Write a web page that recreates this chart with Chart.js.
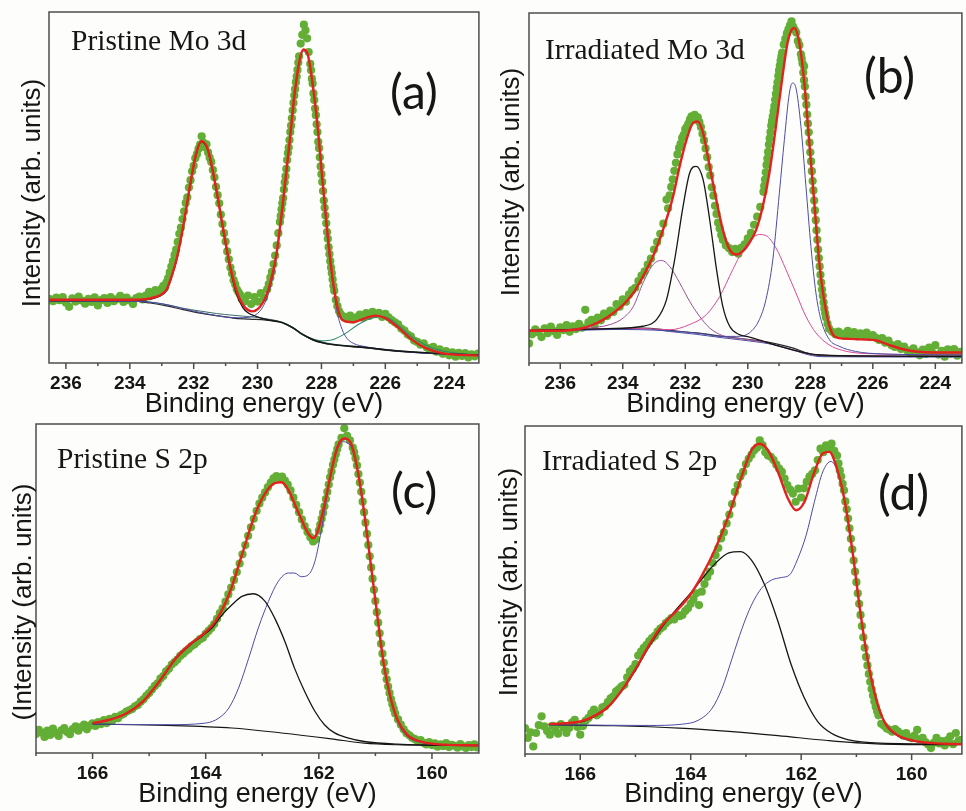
<!DOCTYPE html>
<html>
<head>
<meta charset="utf-8">
<script src="https://cdn.jsdelivr.net/npm/chart.js@4.4.1/dist/chart.umd.min.js"></script>
<style>
  body { margin: 0; background: #fdfdfb; width: 966px; height: 811px; overflow: hidden; position: relative; }
  canvas { position: absolute; }
</style>
</head>
<body>
<canvas id="pa" width="483" height="430" style="left:0;top:0"></canvas>
<canvas id="pb" width="483" height="430" style="left:483px;top:0"></canvas>
<canvas id="pc" width="483" height="399" style="left:0;top:412px"></canvas>
<canvas id="pd" width="483" height="399" style="left:483px;top:412px"></canvas>
<script>
// all values are [binding energy (eV), intensity (0-100 of panel height)]

// (a) pristine Mo 3d
const aDots = [[236.5,18.2],[236.4,17.6],[236.3,18.6],[236.2,17.9],[236.1,18.8],[236.0,17.2],[235.9,16.0],[235.8,18.4],[235.7,17.5],[235.6,18.9],[235.5,17.8],[235.4,16.9],[235.3,18.3],[235.2,17.4],[235.1,18.7],[235.0,16.4],[234.9,17.9],[234.8,18.5],[234.7,17.1],[234.6,18.8],[234.5,17.6],[234.4,18.2],[234.3,19.1],[234.2,17.4],[234.1,18.6],[234.0,17.8],[233.9,16.8],[233.8,18.5],[233.7,18.9],[233.6,18.1],[233.5,19.2],[233.4,20.3],[233.3,19.6],[233.2,20.8],[233.1,20.1],[233.0,21.2],[232.95,22.0],[232.9,21.5],[232.85,23.0],[232.8,24.2],[232.75,25.8],[232.7,27.5],[232.65,29.0],[232.6,30.8],[232.55,32.3],[232.5,34.5],[232.45,36.8],[232.4,38.6],[232.35,41.0],[232.3,43.2],[232.25,45.6],[232.2,47.2],[232.15,50.0],[232.1,52.1],[232.05,54.6],[232.0,56.2],[231.95,58.3],[231.9,59.5],[231.85,61.0],[231.8,62.2],[231.75,64.6],[231.7,62.8],[231.65,61.5],[231.6,62.3],[231.55,60.0],[231.5,58.5],[231.45,57.3],[231.4,55.0],[231.35,52.9],[231.3,50.2],[231.25,47.8],[231.2,45.5],[231.15,42.3],[231.1,39.6],[231.05,37.0],[231.0,34.6],[230.95,31.8],[230.9,29.5],[230.85,27.2],[230.8,25.5],[230.75,23.6],[230.7,22.4],[230.65,21.0],[230.6,20.2],[230.55,19.5],[230.5,18.3],[230.4,17.6],[230.3,19.2],[230.2,16.8],[230.1,18.8],[230.0,17.5],[229.9,19.9],[229.8,18.6],[229.7,21.0],[229.65,22.5],[229.6,24.3],[229.55,26.0],[229.5,28.2],[229.45,30.6],[229.4,33.5],[229.35,37.0],[229.3,40.2],[229.275,41.9],[229.25,43.8],[229.225,45.5],[229.2,47.0],[229.175,49.4],[229.15,51.5],[229.125,53.2],[229.1,55.3],[229.075,57.8],[229.05,59.8],[229.025,61.4],[229.0,63.5],[228.975,65.8],[228.95,67.6],[228.925,69.7],[228.9,72.0],[228.875,74.1],[228.85,76.2],[228.825,78.0],[228.8,80.0],[228.775,81.6],[228.75,83.5],[228.725,85.6],[228.7,87.4],[228.65,91.0],[228.6,93.5],[228.55,96.4],[228.5,94.8],[228.45,92.5],[228.4,88.6],[228.35,85.2],[228.325,83.4],[228.3,81.0],[228.275,79.6],[228.25,76.8],[228.225,74.9],[228.2,72.5],[228.175,70.6],[228.15,68.0],[228.125,65.8],[228.1,63.0],[228.075,61.2],[228.05,58.6],[228.025,56.0],[228.0,53.8],[227.975,51.6],[227.95,49.0],[227.925,46.3],[227.9,44.2],[227.875,42.0],[227.85,39.8],[227.825,37.3],[227.8,35.4],[227.775,33.0],[227.75,31.0],[227.725,29.0],[227.7,27.2],[227.675,25.6],[227.65,23.8],[227.625,22.0],[227.6,20.6],[227.55,18.0],[227.5,16.2],[227.45,14.8],[227.4,13.9],[227.3,13.2],[227.2,12.6],[227.1,13.5],[227.0,12.4],[226.9,13.0],[226.8,13.8],[226.7,12.9],[226.6,14.2],[226.5,13.4],[226.4,14.6],[226.3,13.9],[226.2,14.3],[226.1,13.1],[226.0,14.0],[225.9,13.0],[225.8,12.2],[225.7,11.6],[225.6,11.0],[225.5,9.8],[225.4,9.2],[225.3,8.1],[225.2,7.6],[225.1,6.4],[225.0,6.0],[224.9,5.2],[224.8,5.6],[224.7,4.4],[224.6,3.8],[224.5,4.6],[224.4,3.2],[224.3,3.9],[224.2,2.6],[224.1,3.4],[224.0,2.2],[223.9,3.0],[223.8,1.8],[223.7,2.9],[223.6,2.0],[223.5,2.8],[223.4,1.6],[223.3,2.5],[223.2,1.9],[223.1,2.7]];
const aFit = [[236.53,18.0],[235,18.0],[234,18.0],[233.5,18.2],[233.2,18.8],[233,19.6],[232.85,20.9],[232.7,24.5],[232.54,29.4],[232.33,38.9],[232.12,50.3],[231.92,59.8],[231.76,63.2],[231.6,61.8],[231.5,58.9],[231.29,49.4],[231.09,38.9],[230.88,28.5],[230.67,20.9],[230.46,16.6],[230.15,14.7],[229.84,17.1],[229.63,21.8],[229.42,30.4],[229.22,44.6],[229.0,62.7],[228.85,76.0],[228.7,85.5],[228.57,89.3],[228.44,88.3],[228.28,79.8],[228.12,67.4],[227.97,52.2],[227.81,37.0],[227.66,24.7],[227.5,16.1],[227.35,12.3],[227.03,11.6],[226.62,12.8],[226.31,13.5],[226.0,12.8],[225.58,10.0],[225.16,6.6],[224.75,4.3],[224.23,2.8],[223.07,2.1]];
const aPeak1 = [[236.53,18.0],[234,17.9],[233.5,18.0],[233.2,18.6],[233,19.4],[232.85,20.7],[232.7,24.3],[232.54,29.2],[232.33,38.7],[232.12,50.1],[231.92,59.6],[231.76,63.0],[231.6,61.6],[231.5,58.7],[231.29,49.2],[231.09,38.6],[230.88,28.0],[230.67,20.0],[230.46,15.8],[230.3,14.3],[230.05,13.3],[229.73,12.4],[229.4,11.9],[229.22,11.5],[228.9,10.1],[228.6,8.2],[228.28,6.7],[227.97,5.8],[227.66,5.3],[226.62,4.4],[225.58,3.4],[224.54,2.8],[223.07,2.3]];
const aPeak2 = [[236.53,17.7],[234,17.6],[233,16.9],[232,14.8],[231,13.1],[230.6,12.9],[230.3,13.0],[230.05,13.8],[229.84,15.9],[229.63,20.6],[229.42,29.4],[229.22,43.8],[229.0,62.0],[228.85,75.4],[228.7,85.0],[228.57,88.8],[228.44,87.8],[228.28,79.3],[228.12,66.9],[227.97,51.7],[227.82,36.0],[227.66,23.5],[227.5,14.2],[227.35,9.5],[227.2,7.0],[227.0,5.6],[226.6,4.6],[225.8,3.6],[224.8,2.8],[223.07,2.3]];
const aPeakS = [[229.2,11.4],[228.9,10.0],[228.6,8.1],[228.28,6.8],[228.0,6.3],[227.66,6.6],[227.27,8.3],[226.86,10.9],[226.41,12.8],[226.1,13.2],[225.79,12.2],[225.37,9.0],[224.96,6.2],[224.54,4.3],[223.92,3.0],[223.07,2.3]];
const aBg1 = [[236.53,17.6],[233.9,17.6],[233.37,17.1],[232.85,16.3],[232.33,15.2],[231.8,14.2],[231.29,13.5],[230.77,12.8],[230.25,12.5],[229.73,12.2],[229.22,11.4],[228.9,10.0],[228.6,8.1],[228.28,6.6],[227.97,5.7],[227.66,5.2],[226.62,4.3],[225.58,3.3],[224.54,2.7],[223.07,2.2]];
const aBg2 = [[236.53,17.8],[233.9,17.8],[233.37,17.4],[232.85,16.6],[232.33,15.6],[231.8,14.8],[231.29,14.1],[230.77,13.6],[230.25,13.2],[229.73,12.6],[229.22,11.6],[228.9,10.2],[228.6,8.3],[228.28,6.9],[227.97,6.0],[227.66,5.4],[226.62,4.5],[225.58,3.5],[224.54,2.8],[223.07,2.3]];

// (b) irradiated Mo 3d
const bDots = [[237.0,5.6],[236.9,8.2],[236.8,9.6],[236.7,8.8],[236.6,7.4],[236.5,9.9],[236.4,8.5],[236.3,10.4],[236.2,9.1],[236.1,8.0],[236.0,10.2],[235.9,9.4],[235.8,10.8],[235.7,8.9],[235.6,10.5],[235.5,9.7],[235.4,11.2],[235.3,10.1],[235.2,15.2],[235.1,11.6],[235.0,12.3],[234.9,10.9],[234.8,13.0],[234.7,12.2],[234.6,14.1],[234.5,13.4],[234.4,15.0],[234.3,14.6],[234.2,16.8],[234.1,16.1],[234.0,18.2],[233.9,17.5],[233.8,19.6],[233.7,20.8],[233.6,21.5],[233.5,23.4],[233.4,25.0],[233.3,26.2],[233.2,28.1],[233.1,29.8],[233.0,32.4],[232.9,34.6],[232.8,36.9],[232.7,39.8],[232.6,46.7],[232.55,44.2],[232.5,47.9],[232.45,50.3],[232.4,52.5],[232.35,54.9],[232.3,57.2],[232.25,59.6],[232.2,61.4],[232.15,62.6],[232.1,64.3],[232.05,65.2],[232.0,66.8],[231.95,67.5],[231.9,68.4],[231.85,69.6],[231.8,70.5],[231.75,69.8],[231.7,70.9],[231.65,69.5],[231.6,70.2],[231.55,68.8],[231.5,67.4],[231.45,65.5],[231.4,63.6],[231.35,61.3],[231.3,58.8],[231.25,56.0],[231.2,53.6],[231.15,50.2],[231.1,47.8],[231.05,44.9],[231.0,42.6],[230.95,40.1],[230.9,38.4],[230.85,36.6],[230.8,35.2],[230.7,33.6],[230.6,32.8],[230.5,31.7],[230.4,32.6],[230.3,31.2],[230.2,33.0],[230.1,33.9],[230.0,35.6],[229.9,37.2],[229.8,39.5],[229.7,41.8],[229.6,44.6],[229.5,48.9],[229.475,50.6],[229.45,52.4],[229.425,54.5],[229.4,56.6],[229.375,58.4],[229.35,60.3],[229.325,62.4],[229.3,64.2],[229.275,66.0],[229.25,67.8],[229.225,69.2],[229.2,70.5],[229.175,72.0],[229.15,73.4],[229.125,75.2],[229.1,76.9],[229.075,78.6],[229.05,80.2],[229.025,82.0],[229.0,83.6],[228.975,85.0],[228.95,86.4],[228.925,87.6],[228.9,88.7],[228.85,91.0],[228.8,92.6],[228.75,94.2],[228.7,95.3],[228.65,96.5],[228.6,97.6],[228.55,96.1],[228.5,95.2],[228.45,94.4],[228.4,92.0],[228.35,90.8],[228.3,88.2],[228.275,87.0],[228.25,85.6],[228.225,83.0],[228.2,84.8],[228.2,80.8],[228.175,79.0],[228.15,76.1],[228.125,73.8],[228.1,71.0],[228.075,68.4],[228.05,65.9],[228.025,63.0],[228.0,60.2],[227.975,57.6],[227.95,54.8],[227.925,52.0],[227.9,49.3],[227.875,46.4],[227.85,43.6],[227.825,40.8],[227.8,37.9],[227.775,35.2],[227.75,32.4],[227.725,30.0],[227.7,27.6],[227.675,25.2],[227.65,23.0],[227.625,21.0],[227.6,19.2],[227.575,17.3],[227.55,15.6],[227.525,14.2],[227.5,13.0],[227.45,11.2],[227.4,9.8],[227.3,8.9],[227.2,8.2],[227.1,9.0],[227.0,8.4],[226.9,7.8],[226.8,9.2],[226.7,8.1],[226.6,8.8],[226.5,7.6],[226.4,8.5],[226.3,7.9],[226.2,8.7],[226.1,7.4],[226.0,8.0],[225.9,7.2],[225.8,6.6],[225.7,7.1],[225.6,5.8],[225.5,6.4],[225.4,5.1],[225.3,4.6],[225.2,5.4],[225.1,4.0],[225.0,4.7],[224.9,3.6],[224.8,2.8],[224.7,4.2],[224.6,3.1],[224.5,2.2],[224.4,3.8],[224.3,2.6],[224.2,4.4],[224.1,3.0],[224.0,5.1],[223.9,2.4],[223.8,3.5],[223.7,1.8],[223.6,3.9],[223.5,2.7],[223.4,4.0],[223.3,2.1],[223.2,3.2]];
const bFit = [[237,9.2],[235.8,9.3],[235.26,10.0],[234.94,11.0],[234.62,12.4],[234.3,14.3],[233.98,16.7],[233.66,20.0],[233.35,24.8],[233.03,30.5],[232.71,38.1],[232.39,47.6],[232.18,56.2],[231.96,63.8],[231.75,68.6],[231.6,69.0],[231.43,65.7],[231.22,56.2],[231.01,46.7],[230.8,38.1],[230.58,32.4],[230.37,31.0],[230.16,31.9],[229.95,34.3],[229.73,38.1],[229.52,44.8],[229.31,54.3],[229.1,67.6],[228.89,81.9],[228.73,91.4],[228.62,94.8],[228.51,95.7],[228.35,91.4],[228.19,80.0],[228.04,63.8],[227.88,46.7],[227.72,29.5],[227.56,18.1],[227.35,9.5],[227.08,7.1],[226.76,6.9],[226.23,6.7],[225.91,6.5],[225.49,5.2],[225.06,4.0],[224.64,3.3],[224.0,3.0],[223.15,3.0]];
const bPeak1 = [[237,9.3],[234.5,9.8],[233.35,10.5],[232.92,12.4],[232.6,18.1],[232.34,29.5],[232.07,44.8],[231.86,54.3],[231.65,56.2],[231.43,52.4],[231.22,41.0],[231.0,26.7],[230.8,16.2],[230.58,10.5],[230.27,8.1],[229.95,7.4],[229.5,6.2],[229.0,4.8],[228.5,3.6],[228.0,2.6],[227.0,2.1],[223.15,1.9]];
const bPeak2 = [[237,9.2],[234.5,9.6],[232.5,9.2],[231.5,8.4],[230.8,7.6],[230.37,7.6],[229.95,8.6],[229.63,12.4],[229.42,18.1],[229.2,29.5],[228.99,48.6],[228.83,63.8],[228.67,77.1],[228.57,80.0],[228.46,78.6],[228.3,67.6],[228.14,50.5],[227.98,33.3],[227.82,20.0],[227.66,12.4],[227.39,6.7],[227.08,4.8],[226.55,3.3],[225.7,2.6],[223.15,2.3]];
const bPeak3 = [[237,9.3],[235.26,9.9],[234.4,11.0],[233.98,12.9],[233.66,16.2],[233.35,22.9],[233.03,28.1],[232.76,29.3],[232.5,27.6],[232.18,22.9],[231.86,17.6],[231.54,13.3],[231.22,10.0],[230.8,7.8],[230.16,6.9],[229.5,6.0],[229.0,4.8],[228.5,3.5],[228.0,2.5],[227.0,2.1],[223.15,1.9]];
const bPeak4 = [[237,9.3],[233.5,9.9],[232.5,9.5],[231.86,11.0],[231.33,13.8],[230.9,19.0],[230.48,26.7],[230.05,33.8],[229.63,36.7],[229.42,36.4],[229.1,32.9],[228.78,26.7],[228.46,20.0],[228.14,13.3],[227.82,8.6],[227.4,5.2],[226.97,3.6],[226.23,2.7],[223.15,2.3]];
const bBg1 = [[237,9.3],[234.2,9.8],[233.35,10.0],[232.5,9.3],[231.65,8.6],[230.8,7.6],[229.95,6.7],[229.2,5.7],[228.57,4.3],[228.04,2.7],[227.61,2.1],[223.15,1.9]];
const bBg2 = [[237,9.1],[234.2,9.6],[233.35,9.8],[232.5,9.0],[231.65,8.2],[230.8,7.2],[229.95,6.3],[229.2,5.3],[228.57,3.8],[228.04,2.3],[227.61,1.8],[223.15,1.7]];

// (c) pristine S 2p
const cDots = [[167.0,5.8],[166.95,7.0],[166.9,6.2],[166.85,4.9],[166.8,6.8],[166.75,5.5],[166.7,7.4],[166.65,6.1],[166.6,5.2],[166.55,6.9],[166.5,7.6],[166.45,6.4],[166.4,5.7],[166.35,7.3],[166.3,8.1],[166.25,6.8],[166.2,7.9],[166.15,8.6],[166.1,7.2],[166.05,8.3],[166.0,9.0],[165.95,8.2],[165.9,9.4],[165.85,8.8],[165.8,10.0],[165.75,9.1],[165.7,10.4],[165.65,9.9],[165.6,11.0],[165.55,10.6],[165.5,11.5],[165.45,11.9],[165.4,12.6],[165.35,13.0],[165.3,13.4],[165.25,14.2],[165.2,14.6],[165.15,15.6],[165.1,16.3],[165.05,17.4],[165.0,18.2],[164.95,19.3],[164.9,20.4],[164.85,21.2],[164.8,22.6],[164.75,23.4],[164.7,24.8],[164.65,25.6],[164.6,26.9],[164.55,27.6],[164.5,28.4],[164.45,29.5],[164.4,30.2],[164.35,31.0],[164.3,31.6],[164.25,32.5],[164.2,33.0],[164.15,33.8],[164.1,34.6],[164.05,35.0],[164.0,36.2],[163.95,37.1],[163.9,38.0],[163.85,39.2],[163.8,40.8],[163.75,42.5],[163.7,44.0],[163.65,46.0],[163.6,48.2],[163.55,50.3],[163.5,52.6],[163.45,55.0],[163.4,57.6],[163.35,60.4],[163.3,63.2],[163.25,66.0],[163.2,68.6],[163.15,71.2],[163.1,73.6],[163.05,75.8],[163.0,77.6],[162.95,79.2],[162.9,80.8],[162.85,82.2],[162.8,83.5],[162.75,84.2],[162.7,83.6],[162.65,84.0],[162.6,82.8],[162.55,81.6],[162.5,79.8],[162.45,77.6],[162.4,75.4],[162.35,73.2],[162.3,71.0],[162.25,69.0],[162.2,67.2],[162.15,65.6],[162.1,64.3],[162.05,65.0],[162.0,67.6],[161.975,69.4],[161.95,71.2],[161.925,73.0],[161.9,75.0],[161.875,77.2],[161.85,79.4],[161.825,81.6],[161.8,83.8],[161.775,85.6],[161.75,87.6],[161.725,89.2],[161.7,90.8],[161.675,92.4],[161.65,93.8],[161.6,95.8],[161.55,98.7],[161.5,96.4],[161.45,95.0],[161.4,92.8],[161.375,91.4],[161.35,89.6],[161.325,87.4],[161.3,84.8],[161.275,82.2],[161.25,79.4],[161.225,76.4],[161.2,73.2],[161.175,70.0],[161.15,66.6],[161.125,63.2],[161.1,59.8],[161.075,56.4],[161.05,53.0],[161.025,49.6],[161.0,46.2],[160.975,42.8],[160.95,39.6],[160.925,36.4],[160.9,33.2],[160.875,30.2],[160.85,27.4],[160.825,24.8],[160.8,22.4],[160.775,20.2],[160.75,18.2],[160.725,16.4],[160.7,14.8],[160.675,13.4],[160.65,12.0],[160.6,10.2],[160.55,8.6],[160.5,7.2],[160.45,6.0],[160.4,5.4],[160.35,4.6],[160.3,4.2],[160.25,3.6],[160.2,3.9],[160.15,3.1],[160.1,2.6],[160.05,3.3],[160.0,2.4],[159.95,2.9],[159.9,1.9],[159.85,2.6],[159.8,2.1],[159.75,3.0],[159.7,1.8],[159.65,2.5],[159.6,2.2],[159.55,1.6],[159.5,2.7],[159.45,2.0],[159.4,1.5],[159.35,2.4],[159.3,1.8],[159.25,2.6],[159.2,1.7]];
const cFit = [[166,9.1],[165.7,10.1],[165.4,12.1],[165.11,15.7],[164.82,21.8],[164.53,28.8],[164.29,32.9],[164.06,35.9],[163.83,40.0],[163.59,48.1],[163.36,60.2],[163.13,72.4],[162.95,78.9],[162.78,82.0],[162.66,82.3],[162.54,80.0],[162.37,73.4],[162.19,66.8],[162.1,65.3],[162.02,67.4],[161.9,75.5],[161.78,85.5],[161.67,93.1],[161.55,95.6],[161.43,94.1],[161.32,86.5],[161.2,73.4],[161.08,57.2],[160.96,41.0],[160.85,26.8],[160.73,16.7],[160.61,10.1],[160.44,5.6],[160.21,3.5],[159.92,2.7],[159.17,2.3]];
const cPeak1 = [[166,9.1],[165.7,10.1],[165.4,12.0],[165.11,15.6],[164.82,21.6],[164.53,28.6],[164.29,32.6],[164.06,35.6],[163.89,38.0],[163.71,42.0],[163.54,45.0],[163.36,47.6],[163.16,48.4],[162.95,46.1],[162.78,41.0],[162.6,33.9],[162.43,25.8],[162.25,18.7],[162.07,12.7],[161.9,8.6],[161.72,6.1],[161.49,4.6],[161.2,3.5],[160.61,2.7],[159.17,2.3]];
const cPeak2 = [[166,8.8],[164.7,8.6],[164.0,9.1],[163.77,10.6],[163.59,13.7],[163.42,19.7],[163.24,28.8],[163.07,38.0],[162.89,46.1],[162.72,52.1],[162.54,54.7],[162.43,54.7],[162.31,53.6],[162.19,54.1],[162.07,58.2],[161.96,67.3],[161.84,79.5],[161.72,89.6],[161.58,94.6],[161.43,93.1],[161.32,85.9],[161.2,72.9],[161.08,56.7],[160.96,40.5],[160.85,26.3],[160.73,16.2],[160.61,9.6],[160.44,5.1],[160.21,3.3],[159.92,2.5],[159.17,2.3]];
const cBg = [[166,8.8],[164.7,8.4],[163.54,7.6],[162.66,6.1],[161.78,4.3],[161.2,3.0],[160.61,2.5],[159.17,2.2]];

// (d) irradiated S 2p
const dDots = [[167.0,7.9],[166.95,4.9],[166.9,6.6],[166.85,2.3],[166.8,6.4],[166.75,8.8],[166.7,11.5],[166.65,8.4],[166.6,7.0],[166.55,5.9],[166.5,8.6],[166.45,7.4],[166.4,6.2],[166.35,9.1],[166.3,8.0],[166.25,6.4],[166.2,7.9],[166.15,9.6],[166.1,10.4],[166.05,8.2],[166.0,5.9],[165.95,8.5],[165.9,10.2],[165.85,11.0],[165.8,12.4],[165.75,13.5],[165.7,11.8],[165.65,12.5],[165.6,14.2],[165.55,14.5],[165.5,15.8],[165.45,17.0],[165.4,17.6],[165.35,19.1],[165.3,19.8],[165.25,20.6],[165.2,21.1],[165.15,23.4],[165.1,25.2],[165.05,26.0],[165.0,27.4],[164.95,30.0],[164.9,31.2],[164.85,32.4],[164.8,33.3],[164.75,34.4],[164.7,35.3],[164.65,36.0],[164.6,37.3],[164.55,38.2],[164.5,38.8],[164.45,39.9],[164.4,40.6],[164.35,41.4],[164.3,41.0],[164.25,42.4],[164.2,42.0],[164.15,42.4],[164.1,43.6],[164.05,44.4],[164.0,45.8],[163.95,47.2],[163.9,49.0],[163.85,45.4],[163.8,49.5],[163.75,51.8],[163.7,54.0],[163.65,55.6],[163.6,58.2],[163.55,60.6],[163.5,62.8],[163.45,65.7],[163.4,67.6],[163.35,70.3],[163.3,73.0],[163.25,76.2],[163.2,79.9],[163.15,82.0],[163.1,84.6],[163.05,86.0],[163.0,88.4],[162.95,90.0],[162.9,91.2],[162.85,92.6],[162.8,93.4],[162.75,95.6],[162.7,94.2],[162.65,92.0],[162.6,91.0],[162.55,90.6],[162.5,89.6],[162.45,88.2],[162.4,87.0],[162.35,86.0],[162.3,84.0],[162.25,82.0],[162.2,80.6],[162.15,79.4],[162.1,76.9],[162.05,80.9],[162.0,78.2],[161.95,81.0],[161.9,83.0],[161.85,84.6],[161.8,85.4],[161.75,86.5],[161.7,89.6],[161.65,93.1],[161.6,92.0],[161.55,94.1],[161.5,93.2],[161.45,94.6],[161.4,92.4],[161.35,91.0],[161.325,88.6],[161.3,86.4],[161.275,84.6],[161.25,82.4],[161.225,80.4],[161.2,77.0],[161.175,74.6],[161.15,71.8],[161.125,68.8],[161.1,65.6],[161.075,62.4],[161.05,59.0],[161.025,55.6],[161.0,52.4],[160.975,49.0],[160.95,45.8],[160.925,42.4],[160.9,39.0],[160.875,35.6],[160.85,32.4],[160.825,29.6],[160.8,27.0],[160.775,24.4],[160.75,22.0],[160.725,19.8],[160.7,17.8],[160.675,16.0],[160.65,14.4],[160.625,13.0],[160.6,11.8],[160.55,9.2],[160.5,8.6],[160.45,7.8],[160.4,7.4],[160.35,6.8],[160.3,7.6],[160.25,6.9],[160.2,6.2],[160.15,5.6],[160.1,6.4],[160.05,5.1],[160.0,4.8],[159.95,5.6],[159.9,7.4],[159.85,4.5],[159.8,4.9],[159.75,3.6],[159.7,2.9],[159.65,1.8],[159.6,3.4],[159.55,4.9],[159.5,3.2],[159.45,3.9],[159.4,2.6],[159.35,4.2],[159.3,5.4],[159.25,3.0],[159.2,6.4],[159.15,4.1],[159.1,4.3]];
const dFit = [[166.57,9.1],[166.0,9.9],[165.7,12.0],[165.46,15.0],[165.22,20.1],[164.99,26.2],[164.75,33.3],[164.51,39.4],[164.27,43.4],[164.03,48.0],[163.79,54.6],[163.55,62.7],[163.31,72.8],[163.07,85.0],[162.9,92.6],[162.75,94.6],[162.6,92.6],[162.42,86.0],[162.24,77.9],[162.09,74.3],[161.94,76.9],[161.76,86.0],[161.61,91.6],[161.49,92.1],[161.37,88.0],[161.22,77.9],[161.07,61.7],[160.93,43.4],[160.78,27.2],[160.63,16.0],[160.48,9.4],[160.27,5.9],[159.97,4.1],[159.61,3.3],[159.09,3.0]];
const dPeak1 = [[166.57,9.1],[166.0,9.7],[165.7,11.8],[165.46,14.8],[165.22,19.9],[164.99,25.8],[164.75,32.8],[164.51,38.9],[164.27,43.9],[164.03,48.5],[163.79,53.5],[163.55,58.2],[163.31,61.3],[163.1,61.7],[162.9,59.1],[162.66,51.5],[162.42,40.4],[162.18,27.2],[161.94,17.0],[161.7,9.9],[161.46,6.4],[161.16,4.4],[160.57,3.3],[159.09,3.0]];
const dPeak2 = [[166.57,8.9],[164.75,8.7],[164.15,9.1],[163.85,10.4],[163.61,14.0],[163.43,20.1],[163.25,29.2],[163.07,38.3],[162.9,45.4],[162.72,50.5],[162.54,53.0],[162.36,53.8],[162.21,54.6],[162.06,59.6],[161.91,66.7],[161.76,76.9],[161.61,86.0],[161.46,89.2],[161.34,86.0],[161.22,77.5],[161.07,61.3],[160.93,43.0],[160.78,26.8],[160.63,15.7],[160.48,9.1],[160.27,5.6],[159.97,3.9],[159.09,2.9]];
const dBg = [[166.57,8.9],[165.4,8.6],[164.21,7.9],[163.31,6.9],[162.42,5.6],[161.52,4.1],[160.63,3.1],[159.09,2.8]];

const GREEN = '#63ae35';
const RED = '#e3211e';
const BLUE = '#4b4ba6';
const INK = '#161616';

function pts(arr) {
  return arr.map(p => ({ x: p[0], y: p[1] }));
}

function curve(data, color, width, order) {
  return {
    data: pts(data),
    borderColor: color,
    borderWidth: width,
    pointRadius: 0,
    cubicInterpolationMode: 'monotone',
    fill: false,
    order: order
  };
}

function dots(data) {
  return {
    data: pts(data),
    showLine: false,
    pointRadius: 4.1,
    pointBorderWidth: 0,
    pointBackgroundColor: GREEN,
    borderColor: GREEN,
    order: 20
  };
}

// frame, tick marks and the texts inside each panel
const decor = {
  id: 'decor',
  afterDatasetsDraw(chart, args, o) {
    const { ctx, chartArea: a } = chart;
    const xs = chart.scales.x;
    ctx.save();
    ctx.strokeStyle = '#4d4d4d';
    ctx.lineWidth = 1.5;
    ctx.strokeRect(a.left, a.top, a.right - a.left, a.bottom - a.top);
    xs.ticks.forEach(t => {
      const px = xs.getPixelForValue(t.value);
      const len = t.value % 2 === 0 ? 6 : 3;
      ctx.beginPath();
      ctx.moveTo(px, a.bottom);
      ctx.lineTo(px, a.bottom + len);
      ctx.stroke();
    });
    ctx.fillStyle = INK;
    ctx.textAlign = 'left';
    ctx.textBaseline = 'alphabetic';
    ctx.font = '29.5px "Liberation Serif"';
    ctx.fillText(o.name, o.nameX, o.nameY);
    ctx.textBaseline = 'middle';
    ctx.font = '48px Lato';
    ctx.fillText(o.tag, o.tagX, o.tagY);
    ctx.translate(o.yTitleX, o.yTitleY);
    ctx.rotate(-Math.PI / 2);
    ctx.textAlign = 'center';
    ctx.font = '26px "Liberation Sans"';
    ctx.fillText(o.yTitle, 0, 0);
    ctx.restore();
  }
};

function makePanel(id, p) {
  const canvas = document.getElementById(id);
  const W = canvas.width, H = canvas.height;
  return new Chart(canvas, {
    type: 'line',
    data: { datasets: p.datasets },
    options: {
      responsive: false,
      animation: false,
      events: [],
      layout: { padding: { left: p.area.l, top: p.area.t, right: W - p.area.r, bottom: H - p.area.b - p.xh } },
      scales: {
        x: {
          type: 'linear',
          reverse: true,
          min: p.xmin,
          max: p.xmax,
          grid: { display: false },
          border: { display: false },
          ticks: {
            stepSize: 1,
            includeBounds: false,
            autoSkip: false,
            maxRotation: 0,
            padding: 1,
            color: INK,
            font: { family: 'Liberation Sans', weight: 'bold', size: 19 },
            callback: v => (v % 2 === 0 ? String(v) : '')
          },
          title: {
            display: true,
            text: 'Binding energy (eV)',
            color: INK,
            padding: 0,
            font: { family: 'Liberation Sans', size: 27 }
          },
          afterFit: s => { s.height = p.xh; }
        },
        y: { display: false, min: 0, max: 100 }
      },
      plugins: {
        legend: { display: false },
        tooltip: { enabled: false },
        decor: p.decor
      }
    },
    plugins: [decor]
  });
}

makePanel('pa', {
  xmin: 223.07, xmax: 236.53,
  area: { l: 49, t: 12, r: 481, b: 363 }, xh: 58,
  decor: { name: 'Pristine Mo 3d', nameX: 71, nameY: 50, tag: '(a)', tagX: 390, tagY: 94,
           yTitle: 'Intensity (arb. units)', yTitleX: 33, yTitleY: 193 },
  datasets: [
    curve(aFit, RED, 2.4, 0),
    curve(aPeak1, INK, 1.4, 1),
    curve(aPeak2, BLUE, 1, 2),
    curve(aPeakS, '#2f8a6e', 1.1, 3),
    curve(aBg1, '#2a2a2a', 1.2, 4),
    curve(aBg2, '#3d6e6a', 1, 5),
    dots(aDots)
  ]
});

makePanel('pb', {
  xmin: 223.15, xmax: 237.0,
  area: { l: 46, t: 13, r: 480, b: 363 }, xh: 58,
  decor: { name: 'Irradiated Mo 3d', nameX: 62, nameY: 59, tag: '(b)', tagX: 381, tagY: 78,
           yTitle: 'Intensity (arb. units)', yTitleX: 29, yTitleY: 182 },
  datasets: [
    curve(bFit, RED, 2.4, 0),
    curve(bPeak1, INK, 1.3, 1),
    curve(bPeak2, BLUE, 1, 2),
    curve(bPeak3, '#9c4f96', 1, 3),
    curve(bPeak4, '#de4a94', 1, 4),
    curve(bBg1, '#2a2a2a', 1.2, 5),
    curve(bBg2, BLUE, 1, 6),
    dots(bDots)
  ]
});

makePanel('pc', {
  xmin: 159.17, xmax: 167.0,
  area: { l: 36, t: 12, r: 482, b: 341 }, xh: 58,
  decor: { name: 'Pristine S 2p', nameX: 57, nameY: 56, tag: '(c)', tagX: 391, tagY: 81,
           yTitle: '(Intensity (arb. units)', yTitleX: 24, yTitleY: 190 },
  datasets: [
    curve(cFit, RED, 2.4, 0),
    curve(cPeak1, INK, 1.3, 1),
    curve(cPeak2, BLUE, 1, 2),
    curve(cBg, INK, 1.1, 3),
    dots(cDots)
  ]
});

makePanel('pd', {
  xmin: 159.09, xmax: 167.0,
  area: { l: 42, t: 14, r: 482, b: 342 }, xh: 57,
  decor: { name: 'Irradiated S 2p', nameX: 59, nameY: 58, tag: '(d)', tagX: 395, tagY: 83,
           yTitle: 'Intensity (arb. units)', yTitleX: 27, yTitleY: 170 },
  datasets: [
    curve(dFit, RED, 2.4, 0),
    curve(dPeak1, INK, 1.3, 1),
    curve(dPeak2, BLUE, 1, 2),
    curve(dBg, INK, 1.1, 3),
    dots(dDots)
  ]
});
</script>
</body>
</html>
